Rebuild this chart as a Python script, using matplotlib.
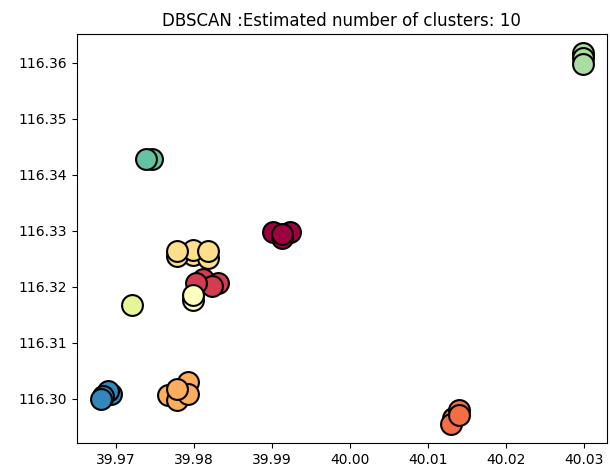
import numpy as np
import matplotlib
matplotlib.use("Agg")
import matplotlib.pyplot as plt

# cluster points (x, y)
c0_x = [39.9901, 39.9923, 39.9913, 39.9913]
c0_y = [116.3297, 116.3297, 116.3287, 116.3294]
c1_x = [39.9812, 39.9831, 39.9823, 39.9803]
c1_y = [116.3214, 116.3207, 116.3202, 116.3206]
c2_x = [40.0132, 40.0140, 40.0130, 40.0140]
c2_y = [116.2966, 116.2979, 116.2954, 116.2970]
c3_x = [39.9793, 39.9767, 39.9778, 39.9793, 39.9778]
c3_y = [116.3029, 116.3006, 116.2998, 116.3009, 116.3017]
c4_x = [39.9799, 39.9779, 39.9818, 39.9799, 39.9779, 39.9818]
c4_y = [116.3257, 116.3254, 116.3251, 116.3266, 116.3263, 116.3263]
c5_x = [39.9799, 39.9799]
c5_y = [116.3176, 116.3185]
c6_x = [39.9721]
c6_y = [116.3168]
c7_x = [40.0299, 40.0299, 40.0299]
c7_y = [116.3618, 116.3609, 116.3598]
c8_x = [39.9746, 39.9739]
c8_y = [116.3428, 116.3428]
c9_x = [39.9694, 39.9690, 39.9683, 39.9681]
c9_y = [116.3008, 116.3013, 116.3005, 116.2999]

clusters = [(c0_x, c0_y), (c1_x, c1_y), (c2_x, c2_y), (c3_x, c3_y), (c4_x, c4_y),
            (c5_x, c5_y), (c6_x, c6_y), (c7_x, c7_y), (c8_x, c8_y), (c9_x, c9_y)]
n_clusters = len(clusters)
title = "DBSCAN :Estimated number of clusters: %d" % n_clusters

fig = plt.figure(figsize=(6.1, 4.68), dpi=100)
ax = fig.add_axes([0.126, 0.0534, 0.869, 0.8739])
colors = plt.cm.Spectral(np.linspace(0, 1, n_clusters + 1))
for (xs, ys), col in zip(clusters, colors):
    ax.plot(xs, ys, 'o', markerfacecolor=tuple(col), markeredgecolor='k',
            markersize=15, markeredgewidth=1.5)
ax.set_title(title)
fig.savefig("out.png", dpi=100)
